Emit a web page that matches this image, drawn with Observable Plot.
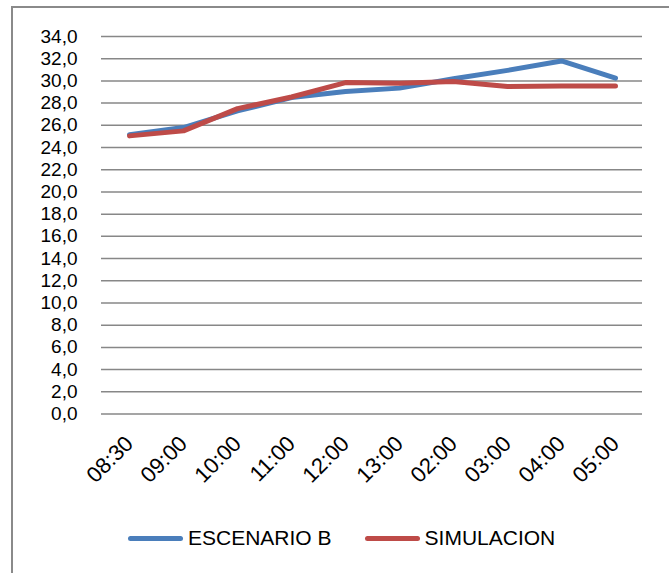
<!DOCTYPE html>
<html>
<head>
<meta charset="utf-8">
<script src="https://cdn.jsdelivr.net/npm/d3@7"></script>
<script src="https://cdn.jsdelivr.net/npm/@observablehq/plot@0.6"></script>
<style>
  html, body { margin: 0; padding: 0; background: #fff; }
  #wrap { position: relative; width: 669px; height: 573px; overflow: hidden; font-family: "Liberation Sans", Arial, sans-serif; }
  #frame { position: absolute; left: 11px; top: 6px; width: 720px; height: 620px; border-left: 2px solid #8a8a8a; border-top: 2px solid #8a8a8a; }
  #chart { position: absolute; left: 0; top: 0; }
  #legend { position: absolute; left: 128px; top: 526px; height: 24px; display: flex; align-items: center; font-size: 21px; color: #000; }
  .item { display: flex; align-items: center; }
  .swatch { width: 55px; height: 5px; border-radius: 3px; margin-right: 5px; }
</style>
</head>
<body>
<div id="wrap">
  <div id="frame"></div>
  <div id="chart"></div>
  <div id="legend"></div>
</div>
<script>
const categories = ["08:30", "09:00", "10:00", "11:00", "12:00", "13:00", "02:00", "03:00", "04:00", "05:00"];
const escenarioB = [25.15, 25.8, 27.3, 28.5, 29.05, 29.35, 30.2, 30.95, 31.8, 30.25];
const simulacion = [25.05, 25.5, 27.5, 28.55, 29.85, 29.8, 29.95, 29.5, 29.55, 29.55];
const yTicks = [0, 2, 4, 6, 8, 10, 12, 14, 16, 18, 20, 22, 24, 26, 28, 30, 32, 34];
const seriesNames = ["ESCENARIO B", "SIMULACION"];
const seriesColors = ["#4A7EBB", "#BE4B48"];

const dataB = categories.map((c, i) => ({cat: c, value: escenarioB[i]}));
const dataS = categories.map((c, i) => ({cat: c, value: simulacion[i]}));

const chart = Plot.plot({
  width: 669,
  height: 500,
  marginLeft: 101,
  marginRight: 27,
  marginTop: 36,
  marginBottom: 86.5,
  style: {fontFamily: "'Liberation Sans', Arial, sans-serif", fontSize: "22px", color: "#000", background: "transparent", overflow: "visible"},
  x: {type: "point", domain: categories, padding: 0.5},
  y: {domain: [0, 34]},
  marks: [
    Plot.ruleY(yTicks, {stroke: "#878787", strokeWidth: 1.5}),
    Plot.axisY(yTicks, {tickSize: 0, tickPadding: 24, label: null, tickFormat: d => d.toFixed(1).replace(".", ","), fontSize: 19}),
    Plot.axisX({tickRotate: -45, tickSize: 0, tickPadding: 26, label: null, fontSize: 22}),
    Plot.line(dataB, {x: "cat", y: "value", stroke: seriesColors[0], strokeWidth: 5, strokeLinejoin: "round", strokeLinecap: "round"}),
    Plot.line(dataS, {x: "cat", y: "value", stroke: seriesColors[1], strokeWidth: 5, strokeLinejoin: "round", strokeLinecap: "round"})
  ]
});
document.getElementById("chart").appendChild(chart);

const legend = document.getElementById("legend");
seriesNames.forEach((name, i) => {
  const item = document.createElement("div");
  item.className = "item";
  if (i > 0) item.style.marginLeft = "33px";
  const sw = document.createElement("span");
  sw.className = "swatch";
  sw.style.background = seriesColors[i];
  const label = document.createElement("span");
  label.textContent = name;
  item.appendChild(sw);
  item.appendChild(label);
  legend.appendChild(item);
});
</script>
</body>
</html>
